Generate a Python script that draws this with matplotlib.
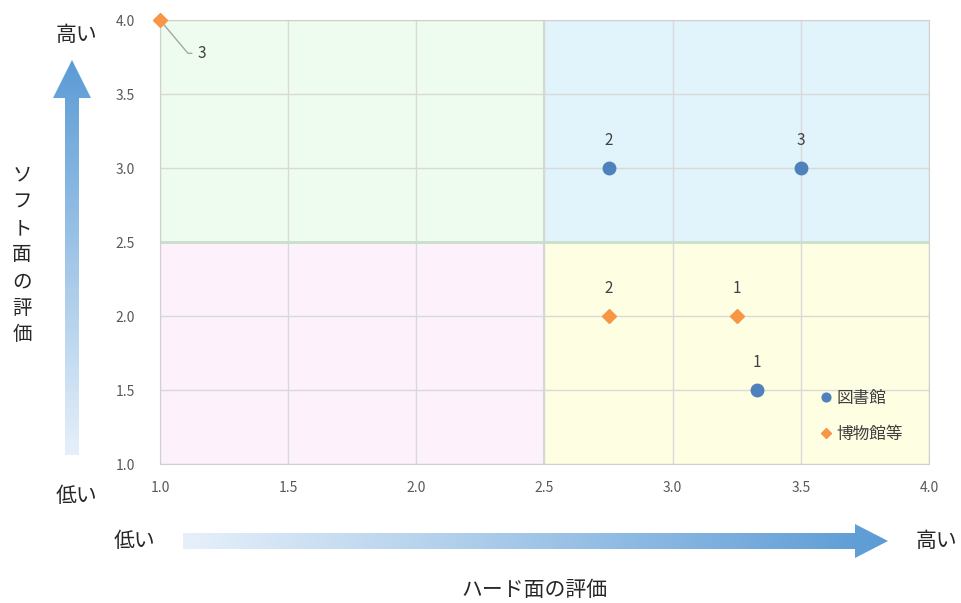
import numpy as np
import matplotlib.pyplot as plt
from matplotlib.patches import Rectangle, Polygon
from matplotlib.colors import LinearSegmentedColormap

plt.rcParams['font.family'] = ['Noto Sans CJK JP', 'DejaVu Sans']

# data
lib_name = "図書館"
lib_x = [3.33, 2.75, 3.5]
lib_y = [1.5, 3.0, 3.0]
lib_lbl = ["1", "2", "3"]

mus_name = "博物館等"
mus_x = [3.25, 2.75, 1.0]
mus_y = [2.0, 2.0, 4.0]
mus_lbl = ["1", "2", "3"]

ticks = [1.0, 1.5, 2.0, 2.5, 3.0, 3.5, 4.0]
xlabel = "ハード面の評価"
ylabel = "ソフト面の評価"
hi, lo = "高い", "低い"

W, H = 962, 603
fig = plt.figure(figsize=(W / 100, H / 100), dpi=100)
ax = fig.add_axes([160 / W, 1 - 464 / H, 769 / W, 444 / H])
ax.set_xlim(1, 4)
ax.set_ylim(1, 4)

# quadrant backgrounds
quads = [((1, 2.5), "#edfcee"), ((2.5, 2.5), "#e1f3fb"),
         ((1, 1), "#fdf2fc"), ((2.5, 1), "#fefee3")]
for (x0, y0), c in quads:
    ax.add_patch(Rectangle((x0, y0), 1.5, 1.5, facecolor=c, edgecolor="none", zorder=0))

ax.set_xticks(ticks)
ax.set_yticks(ticks)
ax.grid(True, color="#d9d9d9", lw=1, zorder=1)
ax.set_axisbelow(True)
ax.axhline(2.5, color="#c9dfcb", lw=2, zorder=1.5)
ax.axvline(2.5, color="#d2d8d2", lw=1.5, zorder=1.5)
for s in ax.spines.values():
    s.set_color("#d0d0d0")
ax.tick_params(length=0, labelsize=10, colors="#595959", pad=12)
ax.tick_params(axis="y", pad=18)
ax.set_xticklabels([f"{t:.1f}" for t in ticks])
ax.set_yticklabels([f"{t:.1f}" for t in ticks])

ax.plot(lib_x, lib_y, "o", color="#4f81bd", ms=9, label=lib_name, zorder=5, clip_on=False)
ax.plot(mus_x, mus_y, "D", color="#f79646", ms=7.5, label=mus_name, zorder=5, clip_on=False)

for x, y, t in zip(lib_x, lib_y, lib_lbl):
    ax.annotate(t, (x, y), xytext=(0, 14), textcoords="offset points",
                ha="center", va="bottom", fontsize=11, color="#404040")
for x, y, t in zip(mus_x[:2], mus_y[:2], mus_lbl[:2]):
    ax.annotate(t, (x, y), xytext=(0, 14), textcoords="offset points",
                ha="center", va="bottom", fontsize=11, color="#404040")
# leader line for the corner point
ax.annotate(mus_lbl[2], (mus_x[2], mus_y[2]), xytext=(27, -24), textcoords="offset points",
            ha="left", va="center", fontsize=11, color="#404040",
            arrowprops=dict(arrowstyle="-", color="#a6a6a6", lw=1,
                            connectionstyle="angle,angleA=0,angleB=-50,rad=0",
                            shrinkA=2, shrinkB=0))

ax.legend(loc="upper left", bbox_to_anchor=(0.836, 0.2), frameon=False,
          fontsize=12, handletextpad=0.1, handlelength=1, markerscale=0.7,
          labelspacing=1.1, labelcolor="#404040")

# overlay in pixel coordinates for arrows and outside labels
ov = fig.add_axes([0, 0, 1, 1], zorder=-1)
ov.set_xlim(0, W)
ov.set_ylim(H, 0)
ov.axis("off")

cm = LinearSegmentedColormap.from_list("b", ["#e6f0fa", "#5b9bd5"])


def grad_arrow(poly, extent, vertical):
    n = 256
    if vertical:
        img = np.linspace(1, 0, n)[:, None]
    else:
        img = np.linspace(0, 1, n)[None, :]
    im = ov.imshow(img, cmap=cm, extent=extent, aspect="auto", interpolation="bilinear")
    p = Polygon(poly, closed=True, facecolor="none", edgecolor="none")
    ov.add_patch(p)
    im.set_clip_path(p)


# horizontal arrow
hx0, hx1, hy = 183, 888, 541
grad_arrow([(hx0, hy - 8), (855, hy - 8), (855, hy - 17), (hx1, hy),
            (855, hy + 17), (855, hy + 8), (hx0, hy + 8)],
           (hx0, hx1, hy + 17, hy - 17), vertical=False)
# vertical arrow
vx, vy0, vy1 = 72, 455, 60
grad_arrow([(vx - 7, vy0), (vx - 7, 98), (vx - 19, 98), (vx, vy1),
            (vx + 19, 98), (vx + 7, 98), (vx + 7, vy0)],
           (vx - 19, vx + 19, vy0, vy1), vertical=True)

tk = dict(fontsize=15, color="#262626", ha="center", va="center")
ov.text(77, 35, hi, **tk)
ov.text(77, 496, lo, **tk)
ov.text(135, 541, lo, **tk)
ov.text(937, 541, hi, **tk)
ov.text(535, 590, xlabel, **tk)
ov.text(22, 255, "\n".join(ylabel), fontsize=14, color="#262626",
        ha="center", va="center", linespacing=1.35)

fig.savefig("out.png", dpi=100)
